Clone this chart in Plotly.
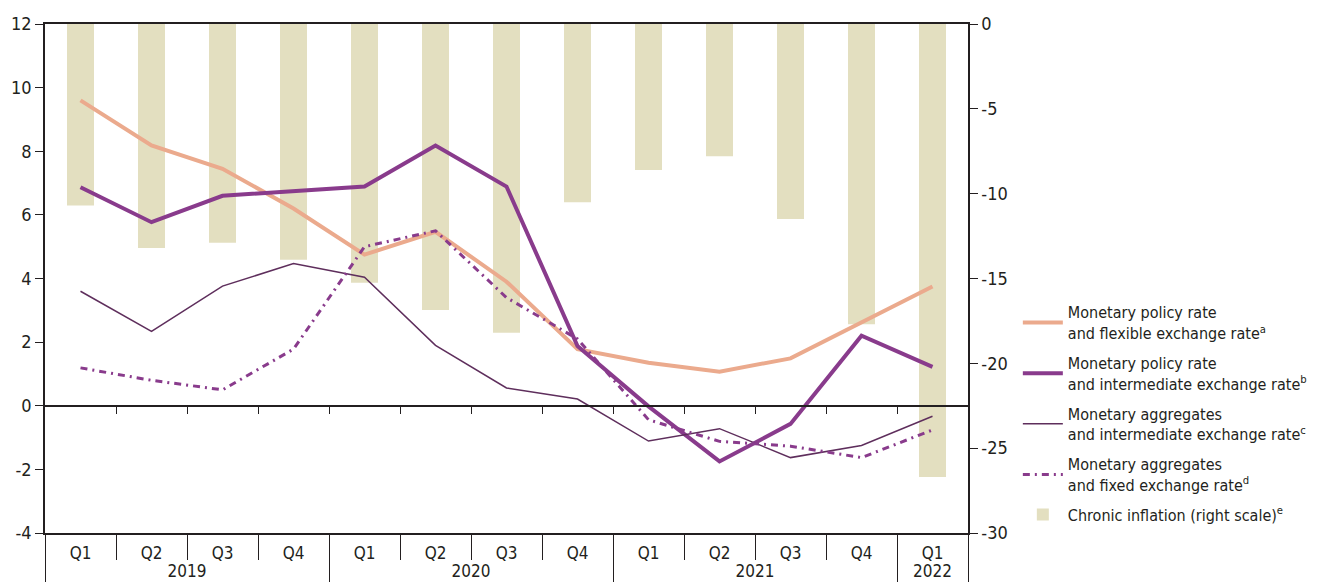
import plotly.graph_objects as go

years = ["2019"] * 4 + ["2020"] * 4 + ["2021"] * 4 + ["2022"]
quarters = ["Q1", "Q2", "Q3", "Q4"] * 3 + ["Q1"]

chronic_inflation = [-10.7, -13.2, -12.9, -13.9, -15.25, -16.85, -18.2, -10.5, -8.6, -7.8, -11.5, -17.7, -26.7]
policy_flexible = [9.6, 8.18, 7.45, 6.2, 4.75, 5.47, 3.9, 1.78, 1.35, 1.07, 1.49, 2.62, 3.75]
policy_intermediate = [6.87, 5.77, 6.6, 6.75, 6.89, 8.18, 6.89, 1.88, -0.02, -1.75, -0.57, 2.2, 1.22]
aggregates_intermediate = [3.6, 2.34, 3.76, 4.47, 4.04, 1.9, 0.56, 0.21, -1.11, -0.72, -1.63, -1.25, -0.33]
aggregates_fixed = [1.19, 0.8, 0.5, 1.78, 5.0, 5.5, 3.4, 2.1, -0.44, -1.12, -1.27, -1.63, -0.76]

left_tickvals = [-4, -2, 0, 2, 4, 6, 8, 10, 12]
left_ticktext = ["-4", "-2", "0", "2", "4", "6", "8", "10", "12"]
right_tickvals = [-30, -25, -20, -15, -10, -5, 0]
right_ticktext = ["-30", "-25", "-20", "-15", "-10", "-5", "0"]

names = [
    "Monetary policy rate<br>and flexible exchange rate<sup>a</sup>",
    "Monetary policy rate<br>and intermediate exchange rate<sup>b</sup>",
    "Monetary aggregates<br>and intermediate exchange rate<sup>c</sup>",
    "Monetary aggregates<br>and fixed exchange rate<sup>d</sup>",
    "Chronic inflation (right scale)<sup>e</sup>",
]

FONT = "Liberation Sans Narrow, DejaVu Sans Condensed, Roboto, sans-serif"
INK = "#231F20"
x = [years, quarters]

fig = go.Figure()
fig.add_trace(go.Bar(x=x, y=chronic_inflation, yaxis="y", name=names[4], legendgroup="e",
                     marker=dict(color="#E3DFC0", line=dict(width=0)), legendrank=5))
fig.add_trace(go.Scatter(x=x, y=policy_flexible, yaxis="y2", mode="lines", name=names[0],
                         legendgroup="a", line=dict(color="#EBAA8D", width=4), legendrank=1))
fig.add_trace(go.Scatter(x=x, y=policy_intermediate, yaxis="y2", mode="lines", name=names[1],
                         legendgroup="b", line=dict(color="#893B8C", width=4), legendrank=2))
fig.add_trace(go.Scatter(x=x, y=aggregates_intermediate, yaxis="y2", mode="lines", name=names[2],
                         legendgroup="c", line=dict(color="#5E2E5C", width=1.5), legendrank=3))
fig.add_trace(go.Scatter(x=x, y=aggregates_fixed, yaxis="y2", mode="lines", name=names[3],
                         legendgroup="d", line=dict(color="#893B8C", width=3, dash="7px,5px,2px,5px"),
                         legendrank=4))
# helper trace so the zero-line tick axis is drawn
fig.add_trace(go.Scatter(x=[None], y=[None], xaxis="x2", yaxis="y2", showlegend=False,
                         hoverinfo="skip"))

fig.update_layout(
    width=1321, height=585,
    margin=dict(l=45, r=353, t=24, b=52, autoexpand=False),
    paper_bgcolor="white", plot_bgcolor="white",
    font=dict(family=FONT, size=16, color=INK),
    bargap=0.62,
    showlegend=True,
    legend=dict(x=1.054, y=0.467, xanchor="left", yanchor="top", traceorder="grouped",
                font=dict(family=FONT, size=16, color=INK),
                tracegroupgap=6, itemwidth=40, bgcolor="rgba(0,0,0,0)"),
    xaxis=dict(type="multicategory", showline=True, linecolor=INK, linewidth=1.5,
               mirror=True, ticks="outside", tickson="boundaries", ticklen=25,
               tickcolor=INK, tickwidth=1.2, showdividers=True, dividercolor=INK,
               dividerwidth=1.2, showgrid=False, tickfont=dict(size=17), range=[-0.5, 12.5],
               ticklabelstandoff=4, automargin=False),
    xaxis2=dict(overlaying="x", anchor="free", position=0.25, range=[-0.5, 12.5],
                tickvals=[i + 0.5 for i in range(12)], showticklabels=False,
                ticks="outside", ticklen=7, tickcolor=INK, tickwidth=1.2,
                showline=True, linecolor=INK, linewidth=1.5, showgrid=False,
                zeroline=False, automargin=False),
    yaxis=dict(side="right", range=[-30, 0], tickvals=right_tickvals, ticktext=right_ticktext,
               showline=True, linecolor=INK, linewidth=1.5, ticks="outside", ticklen=8,
               tickcolor=INK, showgrid=False, zeroline=False, tickfont=dict(size=18),
               automargin=False),
    yaxis2=dict(overlaying="y", side="left", range=[-4, 12], tickvals=left_tickvals,
                ticktext=left_ticktext, showline=True, linecolor=INK, linewidth=1.5,
                ticks="outside", ticklen=8, tickcolor=INK, showgrid=False, zeroline=False,
                tickfont=dict(size=18), automargin=False),
)

fig.write_html(
    "out.html",
    config={"displayModeBar": False},
    post_script="document.body.style.margin='0';document.documentElement.style.overflow='hidden';document.body.style.overflow='hidden';",
)
